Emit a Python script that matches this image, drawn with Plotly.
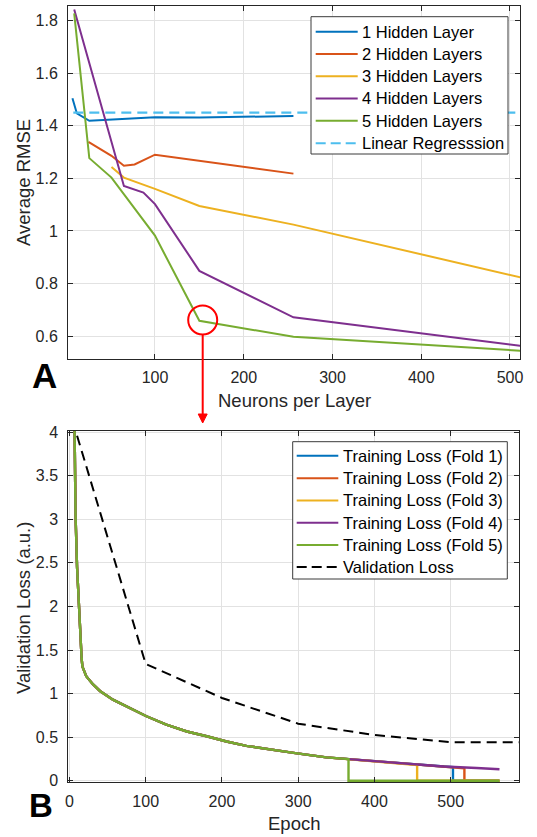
import plotly.graph_objects as go

W, H = 537, 837

# ---------------- Data: panel A (Average RMSE vs neurons per layer) ----------------
l1_x = [7, 12, 26, 100, 150, 256]
l1_y = [1.505, 1.447, 1.419, 1.433, 1.432, 1.437]
l2_x = [25, 51, 65, 77, 100, 256]
l2_y = [1.339, 1.286, 1.248, 1.253, 1.290, 1.218]
l3_x = [51, 65, 100, 150, 256, 512]
l3_y = [1.243, 1.203, 1.160, 1.095, 1.024, 0.823]
l4_x = [9, 65, 87, 100, 150, 256, 512]
l4_y = [1.843, 1.171, 1.146, 1.102, 0.848, 0.671, 0.563]
l5_x = [9, 26, 51, 100, 150, 256, 512]
l5_y = [1.828, 1.277, 1.203, 0.982, 0.658, 0.597, 0.544]
lr_x = [8, 512]
lr_y = [1.45, 1.45]
series_a_names = ["1 Hidden Layer", "2 Hidden Layers", "3 Hidden Layers",
                  "4 Hidden Layers", "5 Hidden Layers", "Linear Regresssion"]
a_xticks = [100, 200, 300, 400, 500]
a_yticks = [0.6, 0.8, 1.0, 1.2, 1.4, 1.6, 1.8]
a_yticklabels = ["0.6", "0.8", "1", "1.2", "1.4", "1.6", "1.8"]

# ---------------- Data: panel B (loss vs epoch) ----------------
train_epochs = [5, 7, 8, 10, 12, 14, 16, 17, 22, 31, 40, 57, 75, 101, 127, 154,
                180, 206, 232, 259, 294, 337, 366, 403, 447, 491, 534, 564]
train_loss = [5.4, 4.0, 3.05, 2.45, 2.05, 1.75, 1.40, 1.31, 1.20, 1.105, 1.03, 0.93,
              0.855, 0.74, 0.645, 0.565, 0.51, 0.45, 0.40, 0.362, 0.32, 0.268,
              0.248, 0.218, 0.186, 0.163, 0.146, 0.132]
fold_names = ["Training Loss (Fold 1)", "Training Loss (Fold 2)", "Training Loss (Fold 3)",
              "Training Loss (Fold 4)", "Training Loss (Fold 5)"]
fold_end_epoch = [503, 518, 456, 564, 366]
fold_end_loss = [0.155, 0.143, 0.181, 0.132, 0.248]
pad_end_epoch = 564
val_epochs = [10, 100, 200, 300, 400, 500, 600]
val_loss = [3.96, 1.34, 0.95, 0.655, 0.525, 0.443, 0.44]
b_xticks = [0, 100, 200, 300, 400, 500]
b_yticks = [0, 0.5, 1, 1.5, 2, 2.5, 3, 3.5, 4]
b_yticklabels = ["0", "0.5", "1", "1.5", "2", "2.5", "3", "3.5", "4"]

# ---------------- Styles ----------------
COLORS = ["#0072BD", "#D95319", "#EDB120", "#7E2F8E", "#77AC30"]
LR_COLOR = "#4DBEEE"
AX = "#262626"
GRID = "#e2e2e2"
FONT = "Liberation Sans, Arial, sans-serif"


def px(x):
    return x / W


def py(y):
    return 1 - y / H


fig = go.Figure()

a_series = [(l1_x, l1_y), (l2_x, l2_y), (l3_x, l3_y), (l4_x, l4_y), (l5_x, l5_y)]
for (xs, ys), c, n in zip(a_series, COLORS, series_a_names):
    fig.add_trace(go.Scatter(x=xs, y=ys, mode="lines", name=n,
                             line=dict(color=c, width=2), xaxis="x", yaxis="y",
                             showlegend=False))
fig.add_trace(go.Scatter(x=lr_x, y=lr_y, mode="lines", name=series_a_names[5],
                         line=dict(color=LR_COLOR, width=2.2, dash="10px,6px"),
                         xaxis="x", yaxis="y", showlegend=False))

for i in range(5):
    end = fold_end_epoch[i]
    xs = [e for e in train_epochs if e < end]
    ys = train_loss[:len(xs)]
    xs = xs + [end]
    ys = ys + [fold_end_loss[i]]
    if end < pad_end_epoch:
        xs = xs + [end, pad_end_epoch]
        ys = ys + [0, 0]
    fig.add_trace(go.Scatter(x=xs, y=ys, mode="lines", name=fold_names[i],
                             line=dict(color=COLORS[i], width=2.4), xaxis="x2", yaxis="y2",
                             showlegend=False))
fig.add_trace(go.Scatter(x=val_epochs, y=val_loss, mode="lines", name="Validation Loss",
                         line=dict(color="black", width=2, dash="10px,6px"),
                         xaxis="x2", yaxis="y2", showlegend=False))

axis_common = dict(showline=True, linecolor=AX, linewidth=1, mirror="ticks",
                   ticks="inside", ticklen=5, tickcolor=AX, tickwidth=1,
                   showgrid=True, gridcolor=GRID, gridwidth=1, zeroline=False,
                   tickfont=dict(family=FONT, size=16, color=AX), automargin=False)

fig.update_layout(
    width=W, height=H, autosize=False,
    margin=dict(l=0, r=0, t=0, b=0, pad=0),
    paper_bgcolor="white", plot_bgcolor="white",
    template="none",
    xaxis=dict(domain=[px(68), px(520)], anchor="y", range=[2, 511.3],
               tickvals=a_xticks, ticklabelstandoff=4, **axis_common),
    yaxis=dict(domain=[py(359), py(6)], anchor="x", range=[0.5125, 1.856],
               tickvals=a_yticks, ticktext=a_yticklabels, ticklabelstandoff=6, **axis_common),
    xaxis2=dict(domain=[px(68.3), px(519.3)], anchor="y2", range=[-1.5, 590],
                tickvals=b_xticks, ticklabelstandoff=4, **axis_common),
    yaxis2=dict(domain=[py(782.3), py(430.7)], anchor="x2", range=[-0.018, 4.017],
                tickvals=b_yticks, ticktext=b_yticklabels, ticklabelstandoff=6, **axis_common),
)

annotations = []
shapes = []
TF = dict(family=FONT, size=18.5, color=AX)
annotations += [
    dict(text="Average RMSE", x=px(24), y=py(183), xref="paper", yref="paper",
         textangle=-90, showarrow=False, font=TF, xanchor="center", yanchor="middle"),
    dict(text="Neurons per Layer", x=px(294), y=py(400), xref="paper", yref="paper",
         showarrow=False, font=TF, xanchor="center", yanchor="middle"),
    dict(text="Validation Loss (a.u.)", x=px(23), y=py(608), xref="paper", yref="paper",
         textangle=-90, showarrow=False, font=TF, xanchor="center", yanchor="middle"),
    dict(text="Epoch", x=px(294), y=py(823), xref="paper", yref="paper",
         showarrow=False, font=TF, xanchor="center", yanchor="middle"),
    dict(text="<b>A</b>", x=px(44.5), y=py(375), xref="paper", yref="paper",
         showarrow=False, font=dict(family=FONT, size=35, color="black"),
         xanchor="center", yanchor="middle", borderpad=0),
    dict(text="<b>B</b>", x=px(41), y=py(805), xref="paper", yref="paper",
         showarrow=False, font=dict(family=FONT, size=33, color="black"),
         xanchor="center", yanchor="middle", borderpad=0),
]

# Manual legends
LF = dict(family=FONT, size=16.5, color="black")


def add_legend(box, rows, line_x0, line_x1, text_x, names, colors, dashes):
    x0, y0, x1, y1 = box
    shapes.append(dict(type="rect", xref="paper", yref="paper",
                       x0=px(x0), x1=px(x1), y0=py(y0), y1=py(y1),
                       line=dict(color="#3a3a3a", width=1), fillcolor="white", layer="above"))
    for r, n, c, d in zip(rows, names, colors, dashes):
        shapes.append(dict(type="line", xref="paper", yref="paper",
                           x0=px(line_x0), x1=px(line_x1), y0=py(r), y1=py(r),
                           line=dict(color=c, width=2, dash=d), layer="above"))
        annotations.append(dict(text=n, x=px(text_x), y=py(r), xref="paper", yref="paper",
                                showarrow=False, font=LF, xanchor="left", yanchor="middle"))


add_legend((311, 16.7, 508, 154), [31.7, 54, 76.3, 98.5, 120.8, 143.2],
           315.7, 357.7, 359.5, series_a_names, COLORS + [LR_COLOR],
           ["solid"] * 5 + ["10px,5px"])
add_legend((292.7, 441.7, 507.3, 579), [455.7, 478.3, 500.5, 522.8, 545, 567],
           296.7, 338.3, 340.5, fold_names + ["Validation Loss"], COLORS + ["black"],
           ["solid"] * 5 + ["10px,5px"])

# Red highlight circle and arrow
cx, cy, rr = 202.7, 320, 14.5
shapes.append(dict(type="circle", xref="paper", yref="paper",
                   x0=px(cx - rr), x1=px(cx + rr), y0=py(cy + rr), y1=py(cy - rr),
                   line=dict(color="#ff0000", width=2), layer="above"))
shapes.append(dict(type="line", xref="paper", yref="paper",
                   x0=px(cx), x1=px(cx), y0=py(cy + rr), y1=py(416),
                   line=dict(color="#ff0000", width=2), layer="above"))
shapes.append(dict(type="path", xref="paper", yref="paper",
                   path=f"M {px(cx-4.5)},{py(414)} L {px(cx+4.5)},{py(414)} L {px(cx)},{py(423)} Z",
                   fillcolor="#ff0000", line=dict(color="#ff0000", width=1), layer="above"))

fig.update_layout(annotations=annotations, shapes=shapes)
fig.write_html("out.html")
